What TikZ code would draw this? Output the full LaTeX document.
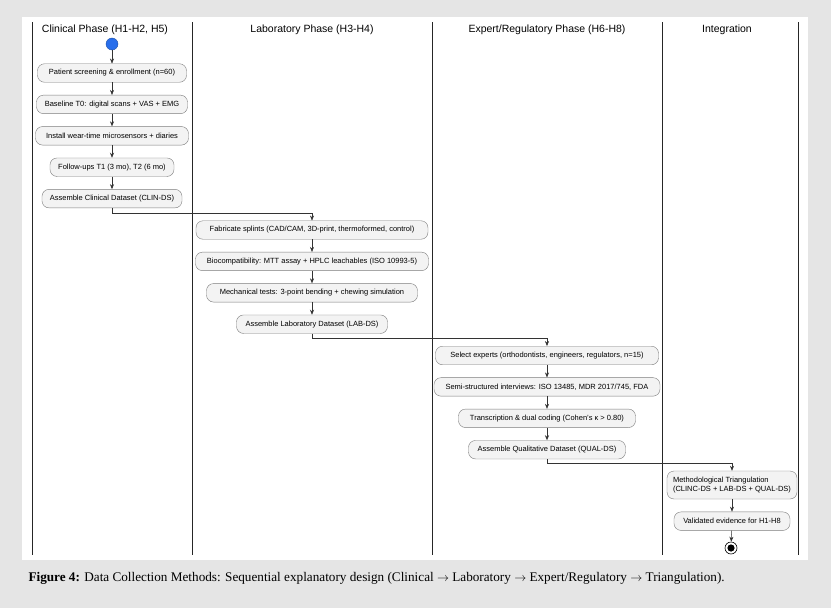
\documentclass[tikz,border=0pt]{standalone}
\usepackage{fontspec}
\setmainfont{Liberation Serif}
\setsansfont{Liberation Sans}
\usepackage{tikz}
\usetikzlibrary{arrows.meta,positioning,calc}

\definecolor{pagegray}{RGB}{229,229,229}
\definecolor{boxfill}{RGB}{243,243,243}
\definecolor{boxline}{RGB}{125,125,125}
\definecolor{startblue}{RGB}{40,110,235}

\begin{document}
\begin{tikzpicture}[x=1pt, y=-1pt, >={Stealth[length=5pt,width=4pt]},
	   font=\sffamily\fontsize{7.5}{8.5}\selectfont,
	   b/.style={draw=boxline, fill=boxfill, rounded corners=7pt, align=center,
	     minimum height=18.5pt, inner xsep=4pt, inner ysep=2pt},
	   lane/.style={draw=black!85, line width=0.7pt},
	   head/.style={font=\sffamily\fontsize{10.5}{12}\selectfont},
	   flow/.style={->, draw=black!80, line width=0.5pt}]
	  % page and panel
	  \fill[pagegray] (0,0) rectangle (831,608);
	  \useasboundingbox (0,0) rectangle (831,608);
	  \fill[white] (22,17) rectangle (808,560);
	  % swimlanes
	  \foreach \lx in {32,192,432,662,798}
	    \draw[lane] (\lx,22) -- (\lx,555);
	  \node[head] (hclin) at (105,30) {Clinical Phase (H1-H2, H5)};
	  \node[head] (hlab) at (312,30) {Laboratory Phase (H3-H4)};
	  \node[head] (hexp) at (547,30) {Expert/Regulatory Phase (H6-H8)};
	  \node[head] (hint) at (727,30) {Integration};
	  % clinical phase
	  \node[circle, draw=startblue!70!black, fill=startblue, minimum size=12pt, inner sep=0pt] (start) at (112,44) {};
	  \node[b, minimum width=149pt] (c1) at (112,73) {Patient screening \& enrollment (n=60)};
	  \node[b, minimum width=151pt, below=12.5pt of c1] (c2) {Baseline T0: digital scans + VAS + EMG};
	  \node[b, minimum width=153pt, below=12.5pt of c2] (c3) {Install wear-time microsensors + diaries};
	  \node[b, minimum width=124pt, below=12.5pt of c3] (c4) {Follow-ups T1 (3 mo), T2 (6 mo)};
	  \node[b, minimum width=140pt, below=12.5pt of c4] (c5) {Assemble Clinical Dataset (CLIN-DS)};
	  % laboratory phase
	  \node[b, minimum width=232pt] (l1) at (312,230) {Fabricate splints (CAD/CAM, 3D-print, thermoformed, control)};
	  \node[b, minimum width=233pt, below=12.5pt of l1] (l2) {Biocompatibility: MTT assay + HPLC leachables (ISO 10993-5)};
	  \node[b, minimum width=211pt, below=12.5pt of l2] (l3) {Mechanical tests: 3-point bending + chewing simulation};
	  \node[b, minimum width=151pt, below=12.5pt of l3] (l4) {Assemble Laboratory Dataset (LAB-DS)};
	  % expert / regulatory phase
	  \node[b, minimum width=223pt] (e1) at (547,355.5) {Select experts (orthodontists, engineers, regulators, n=15)};
	  \node[b, minimum width=226pt, below=12.5pt of e1] (e2) {Semi-structured interviews: ISO 13485, MDR 2017/745, FDA};
	  \node[b, minimum width=177pt, below=12.5pt of e2] (e3) {Transcription \& dual coding (Cohen's κ > 0.80)};
	  \node[b, minimum width=157pt, below=12.5pt of e3] (e4) {Assemble Qualitative Dataset (QUAL-DS)};
	  % integration
	  \node[b, minimum width=130pt, minimum height=28pt, align=left] (i1) at (732,485) {Methodological Triangulation\\(CLINC-DS + LAB-DS + QUAL-DS)};
	  \node[b, minimum width=116pt, below=12.5pt of i1] (i2) {Validated evidence for H1-H8};
	  \node[circle, draw=black, line width=0.6pt, minimum size=12pt, inner sep=0pt] (stop) at (731,548) {};
	  \fill (stop) circle (3.6pt);
	  % flow
	  \draw[flow] (start) -- (c1);
	  \foreach \a/\z in {c1/c2,c2/c3,c3/c4,c4/c5,l1/l2,l2/l3,l3/l4,e1/e2,e2/e3,e3/e4,i1/i2}
	    \draw[flow] (\a) -- (\z);
	  \draw[flow] (i2) -- (stop);
	  \draw[flow] (c5.south) -- ++(0,5) -| (l1.north);
	  \draw[flow] (l4.south) -- ++(0,5) -| (e1.north);
	  \draw[flow] (e4.south) -- ++(0,4) -| (i1.north);
	  % caption
	  \node[anchor=west, font=\rmfamily\fontsize{13.2}{15}\selectfont] (cap) at (25,578)
	    {\textbf{Figure 4:} Data Collection Methods: Sequential explanatory design (Clinical $\rightarrow$ Laboratory $\rightarrow$ Expert/Regulatory $\rightarrow$ Triangulation).};
	\end{tikzpicture}
\end{document}
